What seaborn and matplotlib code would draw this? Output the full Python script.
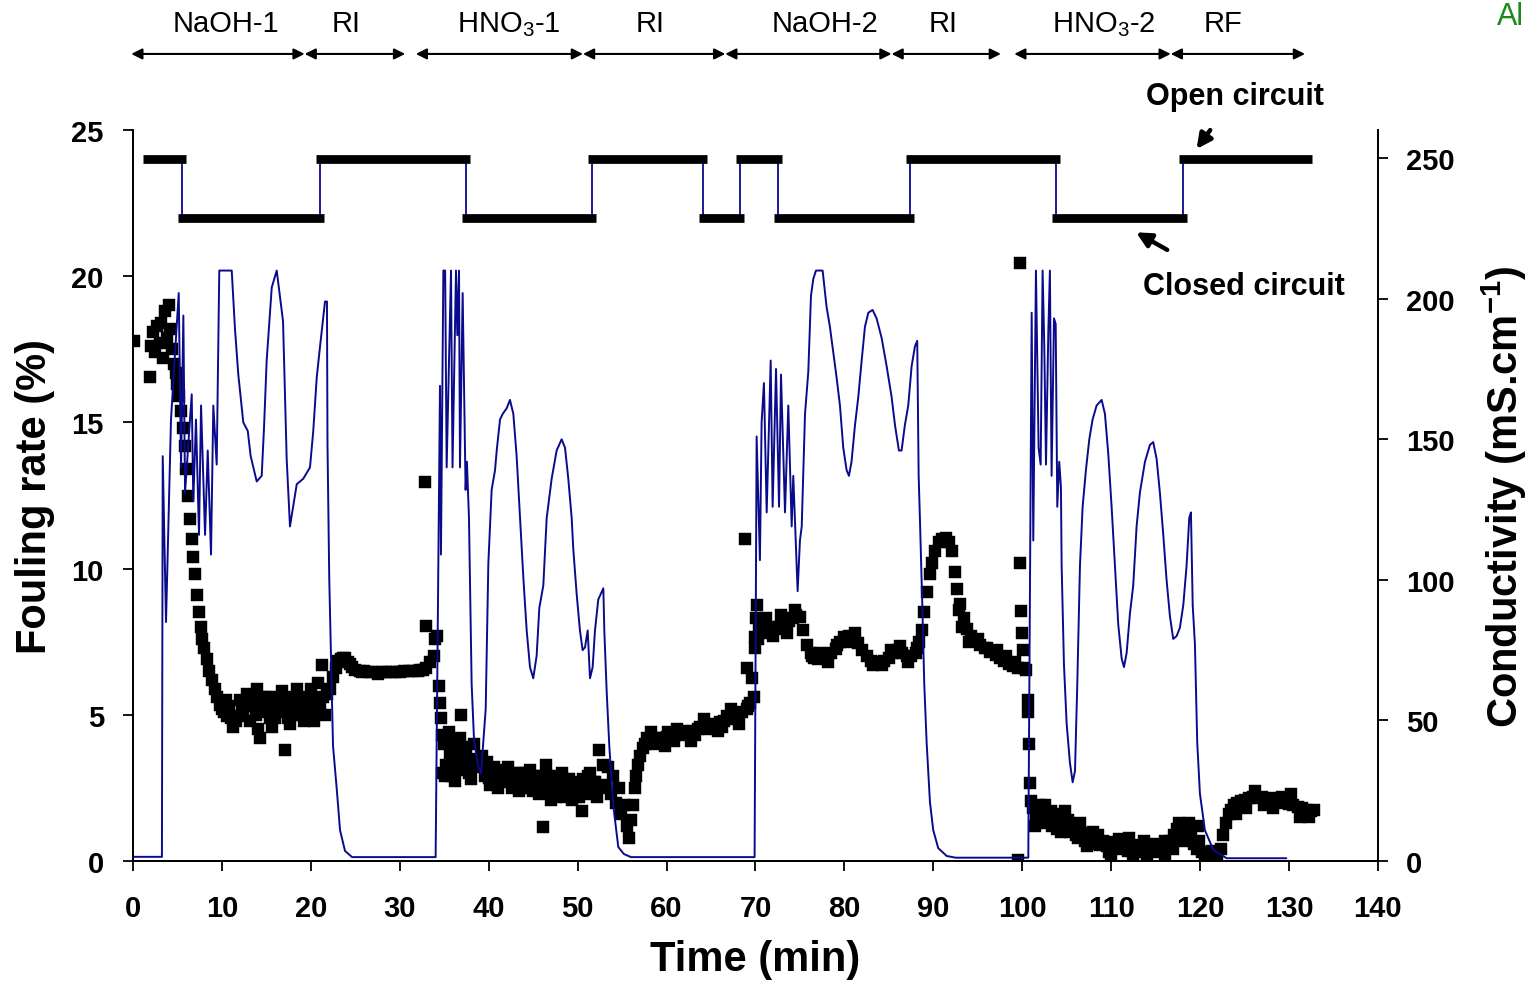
import pandas as pd
import numpy as np
import matplotlib
matplotlib.use("Agg")
import matplotlib.pyplot as plt
import seaborn as sns

# ---- data ----
cond_time = [0.0, 3.25, 3.34, 3.71, 4.27, 5.14, 5.40, 5.66, 5.85, 6.60, 6.78, 7.08, 7.42, 7.65, 8.10,
             8.40, 8.77, 9.03, 9.41, 9.70, 11.10, 11.47, 11.84, 12.40, 12.90, 13.23, 13.91, 14.47,
             14.73, 15.03, 15.60, 16.16, 16.87, 17.28, 17.65, 18.41, 19.15, 19.90, 20.27, 20.66,
             21.03, 21.59, 21.81, 21.87, 22.07, 22.49, 22.90, 23.28, 23.84, 24.63,
             34.03, 34.52, 34.63, 34.90, 35.10, 35.27, 35.76, 35.93, 36.32, 36.47, 36.66, 36.77,
             37.07, 37.40, 37.55, 37.78, 38.08, 38.35, 38.80, 39.13, 39.66, 39.96, 40.33, 40.71,
             40.90, 41.27, 41.57, 42.02, 42.39, 42.77, 43.14, 43.52, 43.89, 44.27, 44.64, 45.01,
             45.39, 45.69, 46.14, 46.52, 47.08, 47.64, 48.20, 48.58, 48.95, 49.33, 49.51, 49.89,
             50.26, 50.56, 50.83, 51.13, 51.39, 51.69, 51.95, 52.32, 52.89, 53.00, 53.27, 53.56,
             54.00, 54.57, 55.20, 56.00,
             69.90, 70.13, 70.50, 70.69, 70.95, 71.26, 71.71, 71.93, 72.31, 72.65, 72.87, 73.32,
             73.69, 74.07, 74.25, 74.74, 75.00, 75.20, 75.57, 75.94, 76.24, 76.50, 76.80, 77.55,
             78.00, 78.37, 78.75, 79.12, 79.50, 79.87, 80.25, 80.51, 80.80, 81.19, 81.56, 81.94,
             82.31, 82.69, 83.17, 83.62, 84.19, 84.75, 85.31, 85.69, 86.13, 86.43, 86.80, 87.18,
             87.56, 87.93, 88.19, 88.35, 88.50, 88.76, 88.98, 89.25, 89.62, 89.99, 90.55, 91.50,
             92.50,
             100.68, 101.06, 101.24, 101.54, 101.84, 102.07, 102.29, 102.48, 102.67, 102.93,
             103.11, 103.30, 103.57, 103.76, 103.94, 104.16, 104.35, 104.43, 104.69, 104.99,
             105.36, 105.67, 105.93, 106.19, 106.49, 106.79, 107.16, 107.54, 107.91, 108.36,
             108.93, 109.30, 109.67, 110.05, 110.42, 110.80, 111.18, 111.44, 111.74, 112.11,
             112.48, 112.86, 113.23, 113.80, 114.36, 114.73, 115.11, 115.48, 115.86, 116.23,
             116.61, 116.98, 117.36, 117.73, 118.11, 118.48, 118.78, 118.97, 119.17, 119.42,
             119.68, 119.98, 120.54, 121.48, 122.98, 129.70]
cond_value = [1.5, 1.5, 144, 85, 157, 202, 140, 194, 131, 166, 128, 157, 116, 162, 116,
              146, 109, 162, 141, 210, 210, 189, 173, 156, 153, 144, 135, 137,
              154, 178, 204, 210, 192, 143, 119, 134, 136, 140, 153, 172,
              183, 199, 199, 148, 100, 41, 26, 11, 3.6, 1.4,
              1.4, 169, 109, 210, 210, 140, 210, 140, 210, 187, 210, 140,
              202, 132, 142, 122, 63, 43, 34, 31, 54, 106, 132, 139,
              146, 157, 159, 161, 164, 159, 144, 122, 101, 82, 69, 65,
              73, 90, 98, 122, 136, 146, 150, 147, 136, 122, 111, 95,
              82, 75, 76, 82, 65, 69, 82, 93, 97, 82, 60, 41,
              20, 5, 2.5, 1.4,
              1.4, 151, 107, 156, 170, 124, 178, 126, 175, 126, 173, 124,
              162, 119, 137, 96, 114, 119, 159, 174, 201, 207, 210, 210,
              197, 190, 181, 172, 162, 147, 139, 137, 142, 155, 165, 178,
              190, 195, 196, 193, 186, 176, 165, 155, 146, 146, 155, 162,
              176, 183, 185, 137, 121, 91, 63, 42, 21, 11, 4.6, 1.8,
              1.2,
              1.2, 195, 114, 210, 147, 141, 210, 183, 141, 188,
              210, 137, 193, 191, 126, 142, 133, 105, 70, 49,
              35, 28, 32, 63, 105, 126, 139, 150, 157, 162,
              164, 159, 145, 126, 105, 84, 72, 69, 74, 88,
              98, 119, 131, 142, 148, 149, 143, 131, 116, 100,
              87, 79, 80, 83, 91, 105, 122, 124, 91, 77,
              42, 24, 11, 4, 1, 1]

fouling_time = [0.1, 1.9, 2.0, 2.2, 2.5, 2.7, 3.0, 3.2, 3.4, 3.6, 3.8, 4.0, 4.2, 4.4, 4.6, 4.8,
                5.0, 5.2, 5.4, 5.6, 5.8, 6.0, 6.2, 6.4, 6.6, 6.8, 7.0, 7.2, 7.4, 7.6, 7.8, 8.0,
                8.3, 8.6, 8.9, 9.2, 9.5, 9.8, 10.2, 10.4, 10.6, 11.0, 11.2, 11.4, 11.8, 12.0, 12.2,
                12.6, 12.8, 13.0, 13.2, 13.4, 13.8, 13.9, 14.1, 14.3, 14.6, 14.8, 15.0, 15.4, 15.6,
                15.8, 16.2, 16.4, 16.6, 17.0, 17.1, 17.4, 17.6, 17.8, 18.2, 18.4, 18.6, 19.0, 19.2,
                19.4, 19.8, 20.0, 20.2, 20.4, 20.6, 20.8, 21.0, 21.2, 21.4, 21.6, 21.8, 22.2, 22.5,
                22.8, 23.1, 23.4, 23.8, 24.2, 24.6, 25.0, 25.5, 26.0, 27.0, 28.0, 29.0, 30.0, 31.0,
                32.0, 32.6, 32.8, 33.0, 33.0, 33.4, 33.8,
                34.0, 34.2, 34.4, 34.5, 34.6, 34.7, 34.8, 35.0, 35.1, 35.2, 35.4, 35.5, 35.6, 35.8,
                36.0, 36.2, 36.4, 36.6, 36.8, 36.9, 37.0, 37.2, 37.5, 37.8, 38.0, 38.1, 38.4, 38.7,
                39.0, 39.3, 39.6, 39.8, 40.0, 40.4, 40.8, 41.0, 41.2, 41.6, 42.0, 42.2, 42.4, 42.8,
                43.2, 43.4, 43.6, 44.0, 44.4, 44.6, 44.8, 45.2, 45.6, 45.8, 46.0, 46.1, 46.4, 46.8,
                47.0, 47.2, 47.6, 48.0, 48.2, 48.4, 48.8, 49.2, 49.4, 49.6, 50.0, 50.2, 50.45, 50.8,
                51.2, 51.4, 51.6, 52.0, 52.2, 52.4, 52.5, 52.8, 53.1, 53.4, 53.7, 54.0, 54.3, 54.6,
                54.9, 55.2, 55.5, 55.8, 56.0, 56.2, 56.4, 56.6, 56.8, 57.0, 57.3, 57.6, 58.0, 58.2,
                58.5, 59.0, 59.5, 59.8, 60.0, 60.5, 61.0, 61.2, 61.5, 62.0, 62.5, 62.8, 63.0, 63.5,
                64.0, 64.2, 64.5, 65.0, 65.5, 65.8, 66.0, 66.5, 67.0, 67.2, 67.5, 68.0, 68.2, 68.5,
                68.8, 69.0, 69.0, 69.4, 69.6, 69.8, 69.9, 70.0, 70.1, 70.2, 70.3, 70.4, 70.6, 70.8,
                71.0, 71.2, 71.4, 71.8, 72.0, 72.2, 72.6, 72.9, 73.0, 73.4, 73.6, 73.8, 74.2, 74.4,
                74.6, 75.0, 75.4, 75.8, 76.2, 76.6, 77.0, 77.5, 78.0, 78.5, 79.0, 79.5, 80.0, 80.5,
                81.0, 81.5, 82.0, 82.5, 83.0, 83.5, 84.0, 84.5, 85.0, 85.5, 86.0, 86.5, 87.0, 87.5,
                88.0, 88.4, 88.7, 89.0, 89.3, 89.6, 89.9, 90.2, 90.6, 91.0, 91.4, 91.8, 92.1, 92.4,
                92.7, 93.0, 93.4, 93.8, 94.2, 94.7, 95.2, 95.8, 96.4, 97.0, 97.5, 98.0, 98.5, 99.0,
                99.5, 99.5, 99.75, 99.75, 99.9, 100.0, 100.1, 100.2, 100.4, 100.6, 100.7, 100.8,
                100.9, 101.0, 101.2, 101.4, 101.5, 101.8, 102.0, 102.1, 102.4, 102.7, 103.0, 103.2,
                103.3, 103.6, 103.9, 104.2, 104.4, 104.5, 104.8, 105.1, 105.4, 105.7, 106.0, 106.3,
                106.5, 106.7, 107.1, 107.5, 107.9, 108.0, 108.3, 108.7, 109.1, 109.5, 109.9, 110.0,
                110.3, 110.7, 111.1, 111.5, 111.9, 112.0, 112.3, 112.7, 113.1, 113.5, 113.9, 114.0,
                114.3, 114.7, 115.1, 115.5, 115.9, 116.0, 116.3, 116.7, 117.1, 117.4, 117.6, 117.7,
                118.0, 118.3, 118.6, 119.0, 119.3, 119.6, 119.8, 119.9, 120.2, 120.5, 120.8, 121.1,
                121.5, 121.9, 122.3, 122.6, 122.9, 123.2, 123.5, 123.8, 124.0, 124.2, 124.6, 125.0,
                125.5, 126.0, 126.2, 126.5, 127.0, 127.5, 128.0, 128.2, 128.5, 129.0, 129.5, 130.0,
                130.2, 130.5, 131.0, 131.5, 132.0, 132.2, 132.5, 132.8,
                # extra readings on the dense stretches
                25.8, 26.5, 27.5, 28.5, 29.5, 30.5, 31.5, 32.3, 23.6, 24.4,
                10.0, 10.8, 11.6, 12.4, 13.6, 14.4, 15.2, 16.0, 16.8, 18.0, 18.8, 19.6,
                40.2, 40.6, 41.4, 41.8, 42.6, 43.0, 43.8, 44.2, 45.0, 45.4, 46.2, 46.6,
                47.4, 47.8, 48.6, 49.0, 49.8, 50.6, 51.0, 51.8,
                57.8, 58.8, 60.2, 60.8, 61.8, 63.2, 63.8, 64.8, 66.2, 66.8, 67.8, 69.2,
                76.4, 77.2, 78.2, 79.2, 80.2, 81.2, 83.2, 84.2, 85.2, 86.2, 87.2, 88.2,
                94.0, 95.0, 96.0, 97.2, 98.2, 99.2, 93.2, 92.9,
                102.6, 103.8, 105.0, 105.9, 107.3, 108.5, 109.7, 110.9, 112.5, 113.7,
                114.9, 116.1, 117.0, 118.8, 121.3, 125.2, 127.2, 129.2, 131.2]
fouling_rate = [17.8, 16.55, 17.6, 18.1, 17.4, 18.3, 17.7, 18.4, 17.2, 18.8, 17.9, 19.0, 18.2, 17.5, 17.0, 16.7,
                16.3, 15.9, 15.4, 14.8, 14.2, 13.4, 12.5, 11.7, 11.0, 10.4, 9.8, 9.1, 8.5, 8.0, 7.6, 7.3,
                6.9, 6.5, 6.2, 5.9, 5.6, 5.35, 5.1, 5.5, 4.95, 4.9, 4.6, 4.85, 4.95, 5.5, 5.15,
                5.3, 5.7, 5.4, 4.8, 5.3, 5.0, 5.9, 4.5, 4.2, 5.1, 5.6, 5.3, 4.9, 4.6,
                5.0, 5.3, 5.6, 5.1, 5.4, 3.8, 4.9, 4.7, 5.6, 5.2, 5.9, 5.5, 5.0, 4.8,
                5.4, 5.6, 5.9, 5.2, 4.8, 5.5, 6.1, 5.3, 6.7, 5.6, 5.0, 5.7, 5.9, 6.3,
                6.6, 6.85, 6.9, 6.95, 6.8, 6.65, 6.55, 6.5, 6.5, 6.45, 6.45, 6.45, 6.45, 6.5,
                6.5, 6.55, 12.96, 8.04, 6.6, 6.8, 7.0,
                7.6, 7.7, 6.0, 5.4, 4.9, 4.3, 3.0, 4.0, 2.9, 3.3, 4.1, 4.4, 3.6, 2.9,
                3.8, 2.75, 3.5, 3.1, 4.2, 5.0, 3.9, 3.3, 3.7, 3.0, 2.8, 3.4, 4.0, 3.5,
                3.2, 3.6, 2.9, 3.4, 2.85, 3.0, 2.8, 2.5, 3.1, 2.7, 2.75, 3.2, 2.9, 2.6,
                2.7, 2.4, 3.0, 2.6, 2.8, 3.1, 2.5, 2.7, 2.3, 2.9, 2.6, 1.16, 3.3, 2.4,
                2.1, 2.7, 2.2, 2.5, 3.0, 2.8, 2.3, 2.6, 2.1, 2.4, 2.7, 2.2, 1.7, 2.5,
                2.9, 3.0, 2.4, 2.7, 2.2, 3.8, 2.5, 3.3, 2.6, 3.2, 2.3, 2.9, 2.0, 2.5,
                1.6, 1.9, 1.2, 0.8, 1.4, 1.9, 2.5, 2.9, 3.3, 3.6, 3.85, 4.0, 4.1, 4.4,
                4.15, 4.2, 4.2, 3.95, 4.25, 4.2, 4.3, 4.5, 4.3, 4.35, 4.4, 4.1, 4.45, 4.5,
                4.55, 4.85, 4.6, 4.65, 4.7, 4.45, 4.75, 4.8, 4.9, 5.2, 4.95, 5.05, 4.7, 5.1,
                11.0, 5.2, 6.6, 5.4, 6.26, 5.6, 7.3, 7.66, 8.3, 8.75, 7.6, 7.9, 8.1, 7.8,
                8.0, 8.3, 7.9, 8.0, 7.7, 7.95, 8.0, 8.4, 8.05, 8.1, 7.8, 8.2, 8.3, 8.6,
                8.4, 8.35, 7.9, 7.4, 7.1, 6.95, 6.9, 6.95, 6.95, 7.1, 7.25, 7.5, 7.65, 7.7,
                7.65, 7.45, 7.2, 7.0, 6.85, 6.8, 6.8, 6.85, 6.95, 7.1, 7.2, 7.1, 7.0, 7.0,
                7.1, 7.5, 7.9, 8.5, 9.2, 9.8, 10.2, 10.6, 10.9, 11.0, 11.05, 10.9, 10.6, 9.9,
                9.3, 8.8, 8.3, 7.95, 7.7, 7.55, 7.4, 7.3, 7.15, 7.05, 6.95, 6.85, 6.75, 6.67,
                6.6, 0.03, 20.45, 10.2, 8.55, 7.8, 7.2, 6.6, 6.55, 5.5, 5.1, 4.0,
                2.67, 2.07, 1.8, 1.2, 1.5, 1.7, 1.9, 1.4, 1.6, 1.3, 1.5, 1.7,
                1.2, 1.4, 1.1, 1.3, 1.0, 1.5, 1.7, 1.4, 1.0, 1.2, 0.9, 0.8,
                1.3, 0.95, 0.7, 0.8, 0.6, 1.0, 0.75, 0.55, 0.7, 0.5, 0.65, 0.2,
                0.45, 0.6, 0.4, 0.55, 0.35, 0.8, 0.5, 0.4, 0.55, 0.3, 0.45, 0.15,
                0.35, 0.5, 0.3, 0.45, 0.4, 0.2, 0.55, 0.7, 0.9, 1.1, 1.3, 0.8,
                1.05, 0.7, 0.9, 1.0, 0.6, 0.4, 1.2, 0.7, 0.3, 0.15, 0.2, 0.1,
                0.15, 0.1, 0.4, 0.9, 1.3, 1.6, 1.75, 1.9, 1.6, 2.0, 2.05, 2.1,
                2.15, 2.2, 2.4, 2.15, 2.2, 2.1, 2.15, 1.8, 2.05, 2.0, 2.05, 1.95,
                2.3, 1.9, 1.85, 1.8, 1.75, 1.5, 1.7, 1.75,
                # extra readings on the dense stretches
                6.45, 6.45, 6.4, 6.45, 6.45, 6.5, 6.5, 6.55, 6.95, 6.75,
                5.2, 5.3, 4.8, 5.0, 5.6, 5.4, 5.6, 4.9, 5.8, 5.0, 5.3, 5.0,
                2.6, 3.2, 2.9, 3.0, 2.5, 3.0, 2.5, 3.0, 2.4, 2.9, 2.5, 2.9,
                2.5, 2.9, 2.2, 2.8, 2.2, 2.8, 2.3, 2.7,
                4.2, 4.0, 4.4, 4.1, 4.45, 4.3, 4.6, 4.5, 4.6, 4.95, 4.85, 5.3,
                7.0, 7.1, 6.8, 7.4, 7.5, 7.8, 6.7, 6.7, 7.2, 7.35, 6.8, 7.3,
                7.5, 7.6, 7.3, 7.2, 7.0, 6.8, 8.0, 8.6,
                1.9, 1.6, 1.1, 1.1, 0.5, 0.9, 0.3, 0.75, 0.25, 0.7,
                0.6, 0.7, 0.4, 1.3, 0.35, 1.8, 1.9, 2.2, 1.5]

# circuit state: 24 = open, 22 = closed (plotted on the left scale)
circuit_start = [1.6, 5.5, 21.0, 37.45, 51.6, 64.1, 68.3, 72.5, 87.4, 103.8, 118.1]
circuit_end = [5.5, 21.0, 37.45, 51.6, 64.1, 68.3, 72.5, 87.4, 103.8, 118.1, 132.1]
circuit_level = [24, 22, 24, 22, 24, 22, 24, 22, 24, 22, 24]

# top phase annotations
phase_labels = ["NaOH-1", "RI", "HNO$_3$-1", "RI", "NaOH-2", "RI", "HNO$_3$-2", "RF"]
phase_start = [-0.2, 19.3, 31.8, 50.6, 66.6, 85.3, 99.1, 116.7]
phase_end = [19.3, 30.6, 50.6, 66.6, 85.3, 97.6, 116.7, 131.8]
phase_text_x = [10.5, 24.0, 42.3, 58.2, 77.8, 91.1, 109.2, 122.6]

sns.set_style("ticks")
plt.rcParams['font.family'] = ['Liberation Sans', 'DejaVu Sans']
plt.rcParams['mathtext.default'] = 'regular'
plt.rcParams['text.color'] = 'black'
plt.rcParams['axes.labelcolor'] = 'black'
plt.rcParams['xtick.color'] = 'black'
plt.rcParams['ytick.color'] = 'black'

fig = plt.figure(figsize=(15.29, 9.87), dpi=100)
ax = fig.add_axes([0.087, 0.1266, 0.8142, 0.7407])
ax2 = ax.twinx()

navy = "#0a0a8c"

# circuit status bars
step_t, step_v = [], []
for s, e, lv in zip(circuit_start, circuit_end, circuit_level):
    step_t += [s, e]
    step_v += [lv, lv]
ax.plot(step_t, step_v, color=navy, lw=1.3, zorder=3)
ax.hlines(circuit_level, [s - 0.45 for s in circuit_start], [e + 0.45 for e in circuit_end],
          color="black", lw=6.3, zorder=4)

# fouling rate scatter
foul_df = pd.DataFrame({"Time": fouling_time, "Fouling": fouling_rate})
sns.scatterplot(data=foul_df, x="Time", y="Fouling", ax=ax, marker="s", s=76,
                color="black", edgecolor="black", linewidth=0.3, zorder=2, legend=False)

# conductivity line
cond_df = pd.DataFrame({"Time": cond_time, "Conductivity": cond_value})
sns.lineplot(data=cond_df, x="Time", y="Conductivity", ax=ax2, color=navy, lw=1.4,
             sort=False, estimator=None)

ax.set_xlim(0, 140)
ax.set_ylim(0, 25)
ax2.set_ylim(0, 260)
ax.set_xticks(range(0, 141, 10))
ax.set_yticks(range(0, 26, 5))
ax2.set_yticks(range(0, 251, 50))

for a in (ax, ax2):
    a.spines['top'].set_visible(False)
    for sp in a.spines.values():
        sp.set_linewidth(1.3)
        sp.set_color("black")
    a.tick_params(width=1.3, length=7, labelsize=21, colors="black")
    for lab in a.get_xticklabels() + a.get_yticklabels():
        lab.set_fontweight("bold")
ax.tick_params(axis="x", pad=17)
ax.tick_params(axis="y", pad=14)
ax2.tick_params(axis="y", pad=13)

ax.set_xlabel("Time (min)", fontsize=30, fontweight="bold", labelpad=12)
ax.set_ylabel("Fouling rate (%)", fontsize=30, fontweight="bold", labelpad=12)
ax2.set_ylabel("Conductivity (mS.cm$^{-1}$)", fontsize=30, fontweight="bold", labelpad=18)

# phase arrows above the plot
tr = ax.get_xaxis_transform()
for lab, s, e, xt in zip(phase_labels, phase_start, phase_end, phase_text_x):
    ax.annotate("", xy=(e, 1.104), xytext=(s, 1.104), xycoords=tr, textcoords=tr,
                arrowprops=dict(arrowstyle="<|-|>", color="black", lw=1.5,
                                mutation_scale=16, shrinkA=0, shrinkB=0),
                annotation_clip=False)
    ax.text(xt, 1.146, lab, transform=tr, ha="center", va="center", fontsize=21)

# circuit labels
ax.annotate("Open circuit", xy=(119.6, 24.35), xytext=(123.9, 26.16),
            ha="center", va="center", fontsize=22, fontweight="bold",
            arrowprops=dict(arrowstyle="-|>", color="black", lw=3.2, mutation_scale=22,
                            shrinkA=14, shrinkB=0),
            annotation_clip=False)
ax.annotate("", xy=(112.8, 21.5), xytext=(116.3, 20.9),
            arrowprops=dict(arrowstyle="-|>", color="black", lw=3.2, mutation_scale=22,
                            shrinkA=0, shrinkB=0))
ax.text(124.9, 19.66, "Closed circuit", ha="center", va="center", fontsize=22,
        fontweight="bold")

fig.text(1497 / 1529, 1 - 2 / 987, "Al", color="#1a8a1a", fontsize=22, ha="left", va="top")

fig.savefig("out.png", dpi=100)
